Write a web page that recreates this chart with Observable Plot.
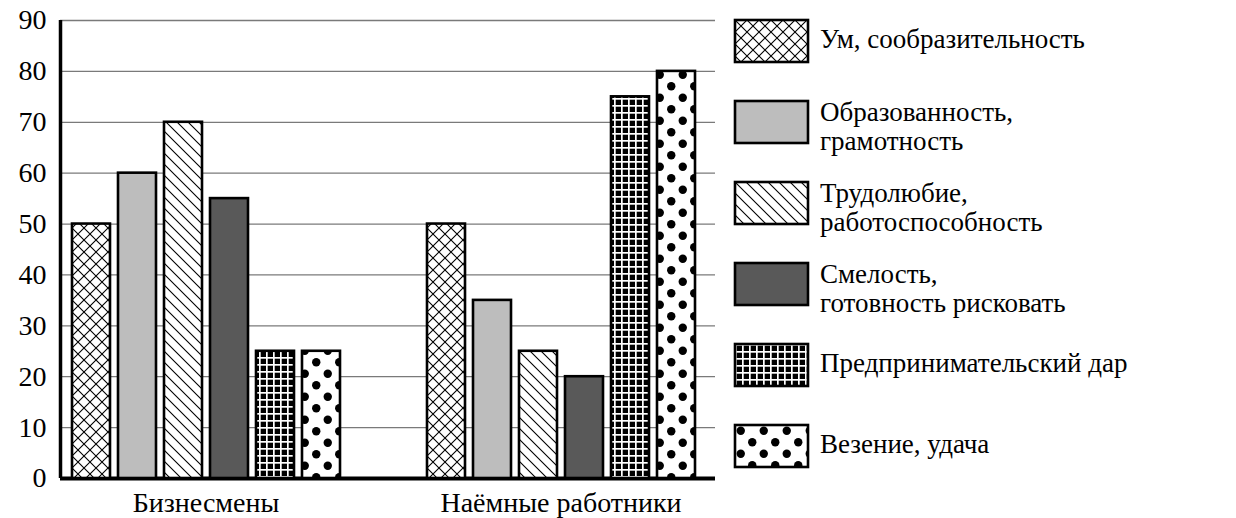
<!DOCTYPE html>
<html><head><meta charset="utf-8">
<script src="https://cdn.jsdelivr.net/npm/d3@7"></script>
<script src="https://cdn.jsdelivr.net/npm/@observablehq/plot@0.6"></script>
<style>
html,body{margin:0;padding:0;background:#fff;}
#wrap{position:relative;width:1236px;height:518px;overflow:hidden;background:#fff;}
.layer{position:absolute;left:0;top:0;}
#legend{position:absolute;left:720px;top:0;font-family:"Liberation Serif","Times New Roman","DejaVu Serif",serif;}
</style></head>
<body>
<svg width="0" height="0" style="position:absolute">
<defs>
  <pattern id="pat-cross" patternUnits="userSpaceOnUse" width="12" height="12">
    <rect width="12" height="12" fill="white"/>
    <path d="M0,0L12,12M12,0L0,12" stroke="black" stroke-width="1.1"/>
  </pattern>
  <pattern id="pat-diag" patternUnits="userSpaceOnUse" width="11" height="11">
    <rect width="11" height="11" fill="white"/>
    <path d="M0,0L11,11M-1,10L1,12M10,-1L12,1" stroke="black" stroke-width="1.1"/>
  </pattern>
  <pattern id="pat-grid" patternUnits="userSpaceOnUse" width="7" height="7">
    <rect width="7" height="7" fill="black"/>
    <rect x="0" y="0" width="7" height="1.7" fill="white"/>
    <rect x="0" y="0" width="1.7" height="7" fill="white"/>
  </pattern>
  <pattern id="pat-dots" patternUnits="userSpaceOnUse" width="23" height="23">
    <rect width="23" height="23" fill="white"/>
    <circle cx="5.75" cy="5.75" r="4.2" fill="black"/>
    <circle cx="17.25" cy="17.25" r="4.2" fill="black"/>
  </pattern>
</defs>
</svg>
<div id="wrap"><div id="base" class="layer"></div><div id="bars" class="layer"></div><svg id="legend" width="516" height="518"></svg></div>
<script>
const groups = ["Бизнесмены", "Наёмные работники"];
const traits = ["Ум, сообразительность", "Образованность, грамотность", "Трудолюбие, работоспособность", "Смелость, готовность рисковать", "Предпринимательский дар", "Везение, удача"];
const legendLines = [["Ум, сообразительность"], ["Образованность,", "грамотность"], ["Трудолюбие,", "работоспособность"], ["Смелость,", "готовность рисковать"], ["Предпринимательский дар"], ["Везение, удача"]];
const businessValues = [50, 60, 70, 55, 25, 25];
const employeeValues = [50, 35, 25, 20, 75, 80];
const yTicks = [0, 10, 20, 30, 40, 50, 60, 70, 80, 90];
const fills = ["url(#pat-cross)", "#bdbdbd", "url(#pat-diag)", "#595959", "url(#pat-grid)", "url(#pat-dots)"];

const seriesByGroup = [businessValues, employeeValues];
const data = groups.flatMap((g, gi) => traits.map((t, ti) => ({group: g, trait: t, value: seriesByGroup[gi][ti]})));

const common = {
  width: 720, height: 518,
  marginLeft: 60, marginRight: 5, marginTop: 20, marginBottom: 40
};
const font = {fontFamily: "Liberation Serif, Times New Roman, DejaVu Serif, serif", fontSize: "28px", color: "black", overflow: "visible"};

// Base layer: grid, axis lines, y tick labels
const base = Plot.plot({
  ...common,
  style: {...font, background: "white"},
  x: {domain: [0, 1], axis: null},
  y: {domain: [0, 90], ticks: yTicks, tickSize: 0, tickPadding: 14, label: null, tickFormat: d => String(d)},
  marks: [
    Plot.ruleY(yTicks.slice(1), {stroke: "#7a7a7a", strokeWidth: 1.3}),
    Plot.ruleY([0], {stroke: "black", strokeWidth: 4}),
    Plot.ruleX([0], {stroke: "black", strokeWidth: 3.5})
  ]
});
document.getElementById("base").appendChild(base);

// Bars layer: grouped bars via fx facets
const bars = Plot.plot({
  ...common,
  style: {...font, background: "transparent"},
  facet: {marginTop: 0, marginBottom: 0, marginLeft: 0, marginRight: 0},
  fx: {domain: groups, paddingInner: 0.1814, paddingOuter: 0.012, align: 0, label: null, tickSize: 0, tickPadding: 14, axis: "bottom"},
  x: {domain: traits, axis: null, paddingInner: 0.18, paddingOuter: 0.219},
  y: {domain: [0, 90], axis: null},
  color: {domain: traits, range: fills},
  marks: [
    Plot.barY(data, {fx: "group", x: "trait", y: "value", fill: "trait", stroke: "black", strokeWidth: 2.6})
  ]
});
document.getElementById("bars").appendChild(bars);

const legend = d3.select("#legend");
const rowTop = i => 20 + i * 81;
traits.forEach((t, i) => {
  const g = legend.append("g").attr("transform", `translate(15,${rowTop(i)})`);
  g.append("rect").attr("x", 0).attr("y", 0).attr("width", 73).attr("height", 42)
    .attr("fill", fills[i]).attr("stroke", "black").attr("stroke-width", 2.6);
  const lines = legendLines[i];
  const text = g.append("text").attr("font-size", 27).attr("fill", "black");
  if (lines.length === 1) {
    text.append("tspan").attr("x", 85).attr("y", 28).text(lines[0]);
  } else {
    lines.forEach((l, j) => text.append("tspan").attr("x", 85).attr("y", 20 + j * 29).text(l));
  }
});
</script>
</body></html>
